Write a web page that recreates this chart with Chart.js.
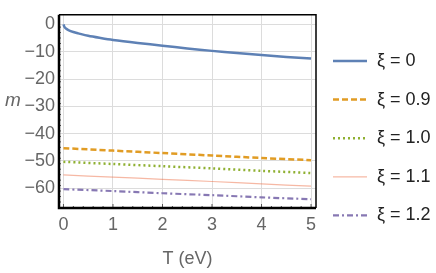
<!DOCTYPE html>
<html>
<head>
<meta charset="utf-8">
<script src="https://cdn.jsdelivr.net/npm/chart.js@4"></script>
<style>
  html, body { margin: 0; padding: 0; background: #fff; }
  #wrap { width: 436px; height: 273px; }
</style>
</head>
<body>
<div id="wrap"><canvas id="myChart" width="436" height="273"></canvas></div>
<script>
// data
const tBlue = [0, 0.02, 0.05, 0.1, 0.2, 0.3, 0.5, 0.75, 1, 1.5, 2, 2.5, 3, 3.5, 4, 4.5, 5];
const mXi0  = [0, -0.9, -1.5, -2.1, -2.8, -3.3, -4.2, -5.0, -5.7, -6.8, -7.8, -8.8, -9.7, -10.5, -11.2, -11.9, -12.5];

const tLines = [0, 1, 2, 3, 4, 5];
const mXi09 = [-45.3, -46.2, -47.1, -48.0, -48.9, -49.7];
const mXi10 = [-50.3, -51.1, -51.9, -52.7, -53.6, -54.4];
const mXi11 = [-55.1, -55.9, -56.7, -57.5, -58.4, -59.2];
const mXi12 = [-60.3, -61.0, -61.8, -62.5, -63.3, -64.0];

const labels = ['ξ = 0', 'ξ = 0.9', 'ξ = 1.0', 'ξ = 1.1', 'ξ = 1.2'];
const xTicks = [0, 1, 2, 3, 4, 5];
const yTicks = [0, -10, -20, -30, -40, -50, -60];

const pts = (xs, ys) => xs.map((x, i) => ({x: x, y: ys[i]}));

const styles = [
    {color: '#5e81b5', width: 2.5, dash: []},
    {color: '#e19c24', width: 2.5, dash: [6, 3]},
    {color: '#8fb032', width: 2.5, dash: [2, 3]},
    {color: 'rgba(235,98,53,0.45)', width: 1.2, dash: []},
    {color: '#8778b3', width: 2.2, dash: [6, 3, 2, 3]}
];
const seriesData = [pts(tBlue, mXi0), pts(tLines, mXi09), pts(tLines, mXi10), pts(tLines, mXi11), pts(tLines, mXi12)];
const FONT = '"Liberation Sans", Arial, sans-serif';

const frameAndLegend = {
    id: 'frameAndLegend',
    afterDraw(chart) {
        const ctx = chart.ctx;
        const a = chart.chartArea;
        const xs = chart.scales.x, ys = chart.scales.y;
        ctx.save();
        // minor ticks
        ctx.strokeStyle = '#555';
        ctx.lineWidth = 1;
        for (let t = 0; t <= 5.001; t += 0.2) {
            const px = xs.getPixelForValue(t);
            const len = Math.abs(t - Math.round(t)) < 0.01 ? 4 : 2;
            ctx.beginPath(); ctx.moveTo(px, a.bottom); ctx.lineTo(px, a.bottom - len); ctx.stroke();
        }
        for (let v = -65; v <= 0; v += 2) {
            const py = ys.getPixelForValue(v);
            ctx.beginPath(); ctx.moveTo(a.left, py); ctx.lineTo(a.left + 2, py); ctx.stroke();
        }
        // frame
        ctx.strokeStyle = '#000';
        ctx.lineWidth = 1.5;
        ctx.beginPath();
        ctx.moveTo(a.left, a.top); ctx.lineTo(a.right, a.top); ctx.lineTo(a.right, a.bottom);
        ctx.stroke();
        ctx.lineWidth = 2.5;
        ctx.beginPath();
        ctx.moveTo(a.left, a.top); ctx.lineTo(a.left, a.bottom); ctx.lineTo(a.right, a.bottom);
        ctx.stroke();
        // y title
        ctx.fillStyle = '#666';
        ctx.font = 'italic 19px ' + FONT;
        ctx.textAlign = 'center';
        ctx.textBaseline = 'middle';
        ctx.fillText('m', 13, 101);
        // legend
        ctx.font = '18px ' + FONT;
        ctx.textAlign = 'left';
        labels.forEach((lab, i) => {
            const y = 61 + i * 38.6;
            const s = styles[i];
            ctx.strokeStyle = s.color;
            ctx.lineWidth = s.width;
            ctx.setLineDash(s.dash);
            ctx.beginPath(); ctx.moveTo(333, y); ctx.lineTo(367, y); ctx.stroke();
            ctx.setLineDash([]);
            ctx.fillStyle = '#222';
            ctx.fillText(lab, 377, y);
        });
        ctx.restore();
    }
};

document.addEventListener("DOMContentLoaded", () => {
    const ctx = document.getElementById('myChart').getContext('2d');

    new Chart(ctx, {
        type: 'line',
        data: {
            datasets: seriesData.map((d, i) => ({
                label: labels[i],
                data: d,
                borderColor: styles[i].color,
                borderWidth: styles[i].width,
                borderDash: styles[i].dash,
                pointRadius: 0,
                fill: false,
                tension: 0.3
            }))
        },
        options: {
            responsive: false,
            animation: false,
            layout: {padding: {top: 5, right: 120, left: 0, bottom: 0}},
            plugins: {legend: {display: false}, tooltip: {enabled: false}},
            scales: {
                x: {
                    type: 'linear',
                    min: -0.09,
                    max: 5.1,
                    afterFit: (s) => { s.height = 65; },
                    afterBuildTicks: (s) => { s.ticks = xTicks.map(v => ({value: v})); },
                    grid: {color: '#dcdcdc', drawTicks: false},
                    border: {display: false},
                    ticks: {
                        color: '#666',
                        padding: 6,
                        font: {size: 18, family: FONT}
                    },
                    title: {
                        display: true,
                        text: 'T (eV)',
                        color: '#666',
                        padding: {top: 0, bottom: 3},
                        font: {size: 18, family: FONT}
                    }
                },
                y: {
                    type: 'linear',
                    min: -67.2,
                    max: 3.5,
                    afterFit: (s) => { s.width = 59; },
                    afterBuildTicks: (s) => { s.ticks = yTicks.map(v => ({value: v})); },
                    grid: {color: '#dcdcdc', drawTicks: false},
                    border: {display: false},
                    ticks: {
                        color: '#666',
                        padding: 4,
                        font: {size: 18, family: FONT},
                        callback: (v) => v < 0 ? '\u2212' + Math.abs(v) : String(v)
                    }
                }
            }
        },
        plugins: [frameAndLegend]
    });
});
</script>
</body>
</html>
